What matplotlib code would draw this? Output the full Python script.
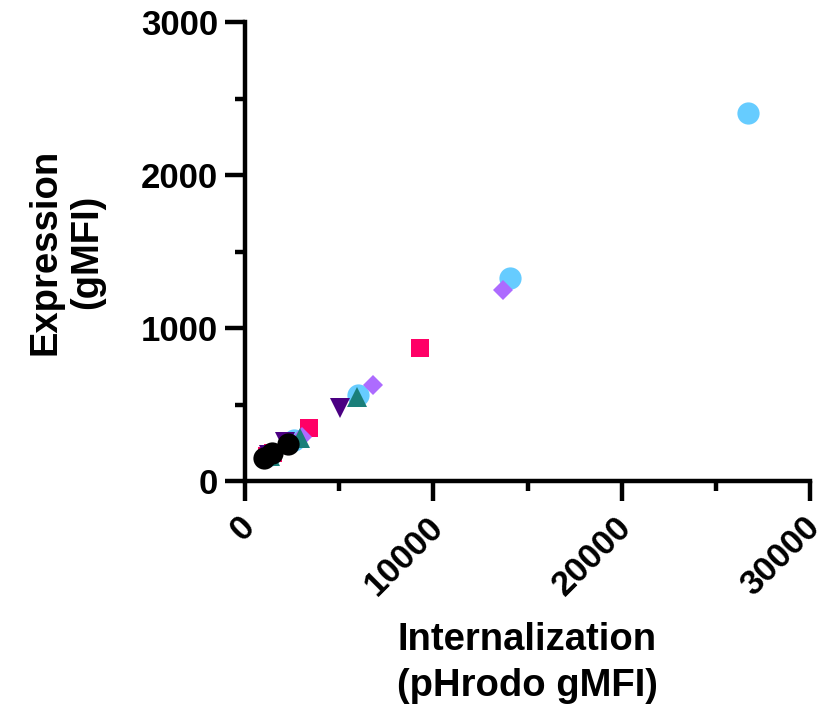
import numpy as np
import matplotlib.pyplot as plt
import matplotlib.transforms as mtransforms
from matplotlib.ticker import MultipleLocator

plt.rcParams['font.family'] = ['Liberation Sans', 'DejaVu Sans']
plt.rcParams['font.weight'] = 'bold'

# internalization (x) vs expression (y), one group per marker style
blue_x = [1330, 2600, 6000, 14070, 26710]
blue_y = [170, 265, 562, 1327, 2405]
pink_x = [1150, 1500, 3400, 9290]
pink_y = [165, 180, 345, 869]
purple_x = [1400, 3050, 6800, 13700]
purple_y = [175, 290, 627, 1250]
indigo_x = [1300, 2150, 5050]
indigo_y = [170, 255, 477]
teal_x = [1350, 2900, 5950]
teal_y = [165, 280, 548]
black_x = [1010, 1430, 2280]
black_y = [150, 183, 242]

fig = plt.figure(figsize=(8.28, 7.05), dpi=100)
ax = fig.add_axes([245/828, 1 - 481/705, (810-245)/828, (481-22)/705])

ax.plot(blue_x, blue_y, 'o', color='#66CCFF', ms=16, mew=0, ls='none', clip_on=False)
ax.plot(pink_x, pink_y, 's', color='#FF0066', ms=13.5, mew=0, ls='none', clip_on=False)
ax.plot(purple_x, purple_y, 'D', color='#AD6BFF', ms=10, mew=0, ls='none', clip_on=False)
ax.plot(indigo_x, indigo_y, 'v', color='#4B0082', ms=14.5, mew=0, ls='none', clip_on=False)
ax.plot(teal_x, teal_y, '^', color='#1A7F7A', ms=14.5, mew=0, ls='none', clip_on=False)
ax.plot(black_x, black_y, 'o', color='black', ms=16, mew=0, ls='none', clip_on=False)

ax.set_xlim(0, 30000)
ax.set_ylim(0, 3000)
ax.xaxis.set_major_locator(MultipleLocator(10000))
ax.xaxis.set_minor_locator(MultipleLocator(5000))
ax.yaxis.set_major_locator(MultipleLocator(1000))
ax.yaxis.set_minor_locator(MultipleLocator(500))

for s in ['top', 'right']:
    ax.spines[s].set_visible(False)
for s in ['left', 'bottom']:
    ax.spines[s].set_linewidth(3.2)

ax.tick_params(which='major', length=14.5, width=3.2, labelsize=25, pad=5)
ax.tick_params(which='minor', length=7.5, width=3.2)
shift = mtransforms.ScaledTranslation(-7/100, -2/100, fig.dpi_scale_trans)
for lab in ax.get_xticklabels():
    lab.set_rotation(45)
    lab.set_ha('right')
    lab.set_va('top')
    lab.set_rotation_mode('anchor')
    lab.set_transform(lab.get_transform() + shift)

ax.set_xlabel('Internalization\n(pHrodo gMFI)', fontsize=27.5, fontweight='bold',
              labelpad=15, linespacing=1.35)
ax.set_ylabel('Expression\n(gMFI)', fontsize=27.5, fontweight='bold', labelpad=26)

fig.savefig('out.png', dpi=100)
